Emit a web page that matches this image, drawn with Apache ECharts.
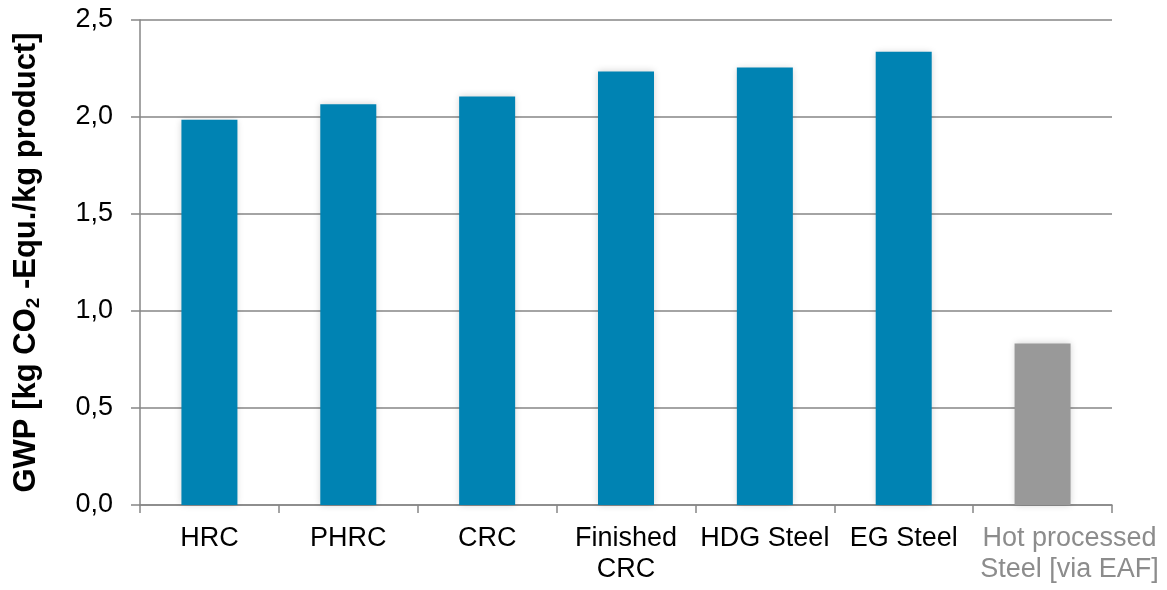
<!DOCTYPE html>
<html>
<head>
<meta charset="utf-8">
<script src="https://cdn.jsdelivr.net/npm/echarts@6/dist/echarts.min.js"></script>
<style>
  html, body { margin: 0; padding: 0; background: #fff; }
  #chart { width: 1167px; height: 590px; }
</style>
</head>
<body>
<div id="chart"></div>
<script>
// Global warming potential per product route
const categories = ['HRC', 'PHRC', 'CRC', 'Finished\nCRC', 'HDG Steel', 'EG Steel', 'Hot processed\nSteel [via EAF]'];
const gwpValues = [1.986, 2.066, 2.106, 2.235, 2.255, 2.336, 0.833];
const yTicks = [0, 0.5, 1.0, 1.5, 2.0, 2.5];
const eafRoute = 'Hot processed\nSteel [via EAF]';

const FONT = "'Liberation Sans', Arial, sans-serif";
const BLUE = '#0083B3';
const GREY = '#999999';
const AXIS = '#868686';

const chart = echarts.init(document.getElementById('chart'), null, { renderer: 'canvas' });

chart.setOption({
  animation: false,
  backgroundColor: '#ffffff',
  grid: { left: 140, right: 55, top: 20, bottom: 85, containLabel: false, outerBoundsMode: 'none' },
  xAxis: {
    type: 'category',
    data: categories.map(c => (c === eafRoute
      // the EAF route label runs past the plot edge, nudged right
      ? { value: c, textStyle: { color: '#8C8C8C', padding: [0, 0, 0, 54] } }
      : { value: c, textStyle: { color: '#000000' } })),
    boundaryGap: true,
    axisLine: { show: true, lineStyle: { color: AXIS, width: 1.5 } },
    axisTick: { show: true, length: 8, lineStyle: { color: AXIS, width: 1.5 } },
    axisLabel: {
      interval: 0,
      margin: 18,
      fontFamily: FONT,
      fontSize: 27,
      lineHeight: 31,
      color: '#000'
    }
  },
  yAxis: {
    type: 'value',
    min: yTicks[0],
    max: yTicks[yTicks.length - 1],
    interval: 0.5,
    name: 'GWP [kg CO{sub|2} -Equ./kg product]',
    nameLocation: 'middle',
    nameRotate: 90,
    nameGap: 97,
    nameTextStyle: {
      fontFamily: FONT,
      fontSize: 31,
      fontWeight: 'bold',
      color: '#000',
      rich: {
        sub: {
          fontFamily: FONT,
          fontSize: 19,
          fontWeight: 'bold',
          color: '#000',
          padding: [15, 0, 0, 0]
        }
      }
    },
    axisLine: { show: true, lineStyle: { color: AXIS, width: 1.5 } },
    axisTick: { show: true, length: 9, lineStyle: { color: AXIS, width: 1.5 } },
    splitLine: { show: true, lineStyle: { color: AXIS, width: 1.5 } },
    axisLabel: {
      margin: 27,
      fontFamily: FONT,
      fontSize: 27,
      color: '#000',
      formatter: v => v.toFixed(1).replace('.', ',')
    }
  },
  series: [{
    type: 'bar',
    barWidth: 56,
    data: gwpValues.map((v, i) => ({
      value: v,
      itemStyle: { color: categories[i] === eafRoute ? GREY : BLUE }
    })),
    itemStyle: {
      shadowColor: 'rgba(0,0,0,0.18)',
      shadowBlur: 7,
      shadowOffsetX: 0,
      shadowOffsetY: 0
    }
  }]
});
</script>
</body>
</html>
